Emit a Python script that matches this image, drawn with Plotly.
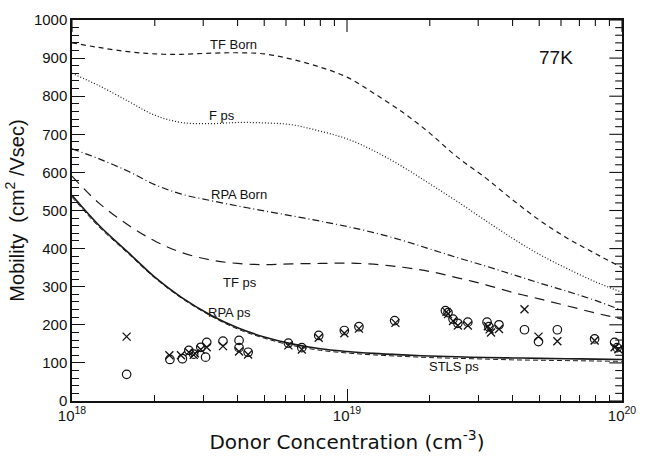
import math
import plotly.graph_objects as go

# Donor concentration grid (cm^-3) for the calculated curves
conc = [1.0e18, 1.25e18, 1.6e18, 2.0e18, 2.5e18, 3.2e18, 4.0e18, 5.0e18, 6.3e18, 8.0e18,
        1.0e19, 1.25e19, 1.6e19, 2.0e19, 2.5e19, 3.2e19, 4.0e19, 5.0e19, 6.3e19, 8.0e19, 1.0e20]

# Calculated mobilities (cm^2/Vsec) at 77 K
tf_born = [940, 928, 917, 911, 910, 913, 914, 911, 897, 876,
           850, 808, 757, 703, 642, 585, 528, 475, 428, 387, 350]
f_ps = [860, 828, 787, 750, 731, 728, 731, 730, 725, 708,
        688, 657, 614, 570, 525, 473, 427, 385, 348, 313, 285]
rpa_born = [662, 636, 603, 568, 543, 526, 512, 499, 486, 472,
            458, 442, 421, 399, 377, 354, 332, 310, 288, 264, 238]
tf_ps = [590, 520, 462, 420, 390, 370, 361, 358, 360, 361,
         362, 359, 351, 340, 324, 305, 285, 268, 250, 231, 215]
rpa_ps = [540, 462, 390, 325, 272, 225, 192, 168, 150, 137,
          130, 125, 121, 118, 116, 114, 113, 112, 111, 110, 109]
stls_ps = [535, 458, 387, 323, 270, 223, 189, 165, 146, 133,
           126, 121, 117, 114, 112, 110, 108, 107, 106, 105, 104]

# Measured mobilities: open circles
circ_n = [1.58e18, 2.27e18, 2.52e18, 2.66e18, 2.77e18, 2.94e18, 3.06e18, 3.09e18, 3.54e18,
          4.05e18, 4.05e18, 4.37e18, 6.12e18, 6.85e18, 7.89e18, 9.78e18, 1.105e19,
          1.49e19, 2.28e19, 2.33e19, 2.43e19, 2.53e19, 2.75e19, 3.23e19, 3.28e19, 3.57e19,
          4.42e19, 4.97e19, 5.82e19, 7.95e19, 9.4e19, 9.6e19]
circ_mu = [70, 109, 111, 133, 123, 141, 115, 154, 157,
           159, 140, 128, 152, 140, 172, 185, 195,
           211, 237, 232, 215, 204, 207, 207, 195, 200,
           187, 156, 187, 163, 154, 140]

# Measured mobilities: crosses
cross_n = [1.58e18, 2.26e18, 2.49e18, 2.66e18, 2.77e18, 2.80e18, 2.94e18, 3.09e18, 3.54e18,
           4.05e18, 4.37e18, 6.12e18, 6.85e18, 7.89e18, 9.78e18, 1.105e19,
           1.50e19, 2.30e19, 2.33e19, 2.43e19, 2.53e19, 2.75e19, 3.25e19, 3.30e19, 3.34e19,
           3.57e19, 4.42e19, 4.97e19, 5.82e19, 7.95e19, 9.4e19, 9.7e19]
cross_mu = [169, 120, 120, 128, 121, 125, 135, 141, 144,
            130, 122, 146, 135, 166, 178, 190,
            205, 234, 228, 210, 198, 198, 196, 188, 180,
            189, 241, 169, 157, 159, 141, 136]

# Axis tick positions
decades = [1e18, 1e19, 1e20]
minor_x = [m * 10.0 ** e for e in (18, 19) for m in range(2, 10)]
major_y = list(range(0, 1001, 100))
minor_y = [v for v in range(0, 1001, 20) if v % 100]

curves = [
    ("TF Born", tf_born, dict(width=1.2, dash="5px,4px")),
    ("F ps", f_ps, dict(width=1.2, dash="1px,2px")),
    ("RPA Born", rpa_born, dict(width=1.2, dash="7px,3px,1px,3px")),
    ("TF ps", tf_ps, dict(width=1.2, dash="10px,7px")),
    ("RPA ps", rpa_ps, dict(width=1.6)),
    ("STLS ps", stls_ps, dict(width=1.0, dash="5px,3px")),
]

INK = "#111"
W, H = 647, 464
MARGIN = dict(l=72, r=11, t=17, b=63)
X_RANGE = [18, 20]
Y_RANGE = [0, 1000]

# pixel -> axis-unit conversion for the inward tick marks on the top and right edges
px_per_decade = (W - MARGIN["l"] - MARGIN["r"]) / (X_RANGE[1] - X_RANGE[0])
px_per_unit_y = (H - MARGIN["t"] - MARGIN["b"]) / (Y_RANGE[1] - Y_RANGE[0])

fig = go.Figure()
for name, vals, style in curves:
    fig.add_trace(go.Scatter(x=conc, y=vals, mode="lines", name=name, line_shape="spline",
                             line=dict(color="#1a1a1a", **style), showlegend=False))

fig.add_trace(go.Scatter(x=circ_n, y=circ_mu, mode="markers", showlegend=False,
                         marker=dict(symbol="circle-open", size=8.5, color=INK,
                                     line=dict(width=1.2, color=INK))))
fig.add_trace(go.Scatter(x=cross_n, y=cross_mu, mode="markers", showlegend=False,
                         marker=dict(symbol="x-thin-open", size=8, color=INK,
                                     line=dict(width=1.3, color=INK))))

# Inward tick marks along the top edge
top_x, top_y = [], []
for vals, length in ((decades, 12), (minor_x, 6)):
    for v in vals:
        top_x += [v, v, None]
        top_y += [Y_RANGE[1], Y_RANGE[1] - length / px_per_unit_y, None]
fig.add_trace(go.Scatter(x=top_x, y=top_y, mode="lines", showlegend=False, hoverinfo="skip",
                         line=dict(color=INK, width=1.1), cliponaxis=False))

# Inward tick marks along the right edge
right_x, right_y = [], []
for vals, length in ((major_y, 13), (minor_y, 7)):
    for v in vals:
        right_x += [10.0 ** X_RANGE[1], 10.0 ** (X_RANGE[1] - length / px_per_decade), None]
        right_y += [v, v, None]
fig.add_trace(go.Scatter(x=right_x, y=right_y, mode="lines", showlegend=False, hoverinfo="skip",
                         line=dict(color=INK, width=1.1), cliponaxis=False))

# Curve labels (x in log10 units on the log axis)
labels = [
    ("TF Born", 18.589, 935, 13),
    ("F ps", 18.546, 750, 13),
    ("RPA Born", 18.606, 542, 13),
    ("TF ps", 18.61, 310, 13),
    ("RPA ps", 18.574, 232, 13),
    ("STLS ps", 19.389, 91, 13),
    ("77K", 19.76, 901, 19),
]
for text, lx, ly, fs in labels:
    fig.add_annotation(x=lx, y=ly, xref="x", yref="y", text=text, showarrow=False,
                       font=dict(family="Liberation Sans, Arial, sans-serif", size=fs, color=INK))

base = dict(ticks="inside", tickcolor=INK, showline=True, linecolor=INK, linewidth=1.5,
            mirror=True, showgrid=False, zeroline=False)

fig.update_layout(
    width=W, height=H,
    margin=MARGIN,
    paper_bgcolor="white", plot_bgcolor="white",
    font=dict(family="Liberation Sans, Arial, sans-serif", color=INK),
    xaxis=dict(
        **base, type="log", range=X_RANGE, tickvals=decades, ticklen=12, tickwidth=1.2,
        ticktext=["10<sup>18</sup>", "10<sup>19</sup>", "10<sup>20</sup>"],
        ticklabeloverflow="allow",
        tickfont=dict(size=15),
        minor=dict(tickvals=minor_x, ticks="inside", ticklen=6, tickwidth=1, tickcolor=INK,
                   showgrid=False),
        title=dict(text="Donor Concentration (cm<sup>-3</sup>)",
                   font=dict(family="DejaVu Sans, sans-serif", size=20), standoff=12),
    ),
    yaxis=dict(
        **base, range=Y_RANGE, tickvals=major_y, ticklen=13, tickwidth=1.2,
        tickfont=dict(size=15),
        minor=dict(tickvals=minor_y, ticks="inside", ticklen=7, tickwidth=1, tickcolor=INK,
                   showgrid=False),
        title=dict(text="Mobility  (cm<sup>2</sup> /Vsec)",
                   font=dict(family="Liberation Sans, Arial, sans-serif", size=20), standoff=4),
    ),
)

fig.write_html("out.html")
